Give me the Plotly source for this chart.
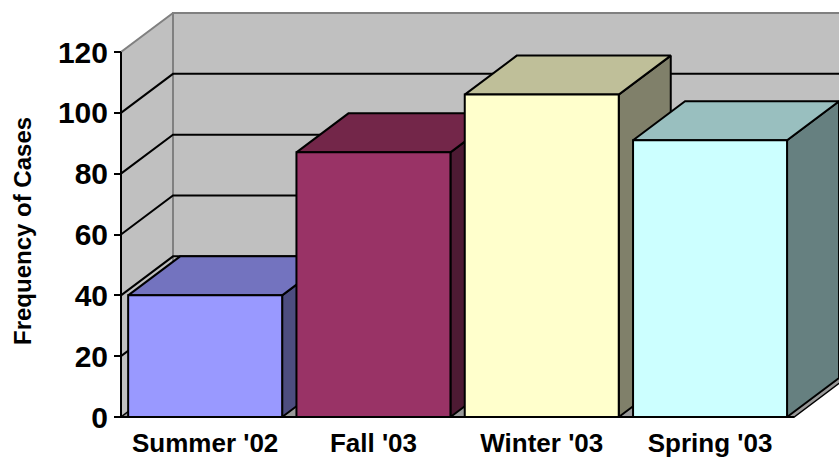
import plotly.graph_objects as go

# ---- data ----
categories = ["Summer '02", "Fall '03", "Winter '03", "Spring '03"]
values = [40, 87, 106, 91]
y_ticks = [0, 20, 40, 60, 80, 100, 120]
y_title = "Frequency of Cases"

# ---- styles ----
front_colors = ["#9999FF", "#993366", "#FFFFCC", "#CCFFFF"]
top_colors = ["#7373BF", "#732649", "#BFBF99", "#99BFBF"]
side_colors = ["#4D4D80", "#4D1A33", "#80806A", "#668080"]
WALL = "#C0C0C0"
WALL_EDGE = "#808080"
FLOOR = "#999999"

# geometry (pixels -> data units)
W, H = 839, 462
ML, MR, MT, MB = 111, 0, 8, 41
PX_CAT = 168.3
PX_VAL = 3.0417
AX_X_PX = 121
AX_Y_PX = 417
DEPTH_X = 52 / PX_CAT
DEPTH_Y = 39 / PX_VAL
BAR_FRAC = 0.915
VMAX = 120
ncat = len(categories)

xmin = -(AX_X_PX - ML) / PX_CAT
xmax = xmin + (W - ML - MR) / PX_CAT
ymin = -((H - MB) - AX_Y_PX) / PX_VAL
ymax = ymin + (H - MT - MB) / PX_VAL

fig = go.Figure()


def poly(xs, ys, fill, line, lw=2):
    fig.add_trace(go.Scatter(
        x=xs + [xs[0]], y=ys + [ys[0]], mode="lines", fill="toself",
        fillcolor=fill, line=dict(color=line, width=lw),
        hoverinfo="skip", showlegend=False))


# back wall
poly([DEPTH_X, ncat + DEPTH_X + 2, ncat + DEPTH_X + 2, DEPTH_X],
     [DEPTH_Y, DEPTH_Y, VMAX + DEPTH_Y, VMAX + DEPTH_Y], WALL, WALL_EDGE)
# left wall
poly([0, DEPTH_X, DEPTH_X, 0], [0, DEPTH_Y, VMAX + DEPTH_Y, VMAX], WALL, WALL_EDGE)
# floor
poly([0, ncat, ncat + DEPTH_X, DEPTH_X], [0, 0, DEPTH_Y, DEPTH_Y], FLOOR, "black", 1.5)

# gridlines
gx, gy = [], []
for v in y_ticks:
    if v == 0 or v == VMAX:
        continue
    gx += [0, DEPTH_X, ncat + DEPTH_X + 2, None]
    gy += [v, v + DEPTH_Y, v + DEPTH_Y, None]
fig.add_trace(go.Scatter(x=gx, y=gy, mode="lines", line=dict(color="black", width=2),
                         hoverinfo="skip", showlegend=False))

# bars
pad = (1 - BAR_FRAC) / 2
for i, v in enumerate(values):
    x0 = i + pad
    x1 = i + 1 - pad
    # side
    poly([x1, x1 + DEPTH_X, x1 + DEPTH_X, x1], [0, DEPTH_Y, v + DEPTH_Y, v], side_colors[i], "black")
    # top
    poly([x0, x1, x1 + DEPTH_X, x0 + DEPTH_X], [v, v, v + DEPTH_Y, v + DEPTH_Y], top_colors[i], "black")
    # front
    poly([x0, x1, x1, x0], [0, 0, v, v], front_colors[i], "black")

# axis lines
fig.add_trace(go.Scatter(x=[0, 0, None, 0, ncat], y=[VMAX, 0, None, 0, 0], mode="lines",
                         line=dict(color="black", width=2), hoverinfo="skip", showlegend=False))

font_family = "Arial, Liberation Sans, sans-serif"
xpos = (0 - ymin) / (ymax - ymin)
ypos = (0 - xmin) / (xmax - xmin)

fig.update_layout(
    width=W, height=H,
    margin=dict(l=ML, r=MR, t=MT, b=MB, pad=0),
    paper_bgcolor="white", plot_bgcolor="white",
    showlegend=False,
    xaxis=dict(range=[xmin, xmax], showgrid=False, zeroline=False, showline=False,
               anchor="free", position=xpos,
               tickvals=[i + 0.5 for i in range(ncat)], ticktext=categories, ticks="",
               tickfont=dict(family=font_family, size=26, color="black", weight="bold"),
               ticklabelstandoff=8),
    xaxis2=dict(range=[xmin, xmax], overlaying="x", matches="x", anchor="free", position=xpos,
                side="bottom", showgrid=False, zeroline=False, showline=False,
                tickvals=list(range(ncat + 1)), ticks="outside", ticklen=7, tickwidth=2,
                tickcolor="black", showticklabels=False),
    yaxis=dict(range=[ymin, ymax], showgrid=False, zeroline=False, showline=False,
               anchor="free", position=ypos,
               tickvals=y_ticks, ticks="outside", ticklen=7, tickwidth=2, tickcolor="black",
               tickfont=dict(family=font_family, size=30, color="black", weight="bold")),
    annotations=[dict(
        text=y_title, textangle=-90, showarrow=False,
        xref="paper", yref="paper",
        x=(22 - ML) / (W - ML - MR), y=((H - MB) - 231) / (H - MT - MB),
        xanchor="center", yanchor="middle",
        font=dict(family=font_family, size=24, color="black", weight="bold"))],
)

fig.write_html("out.html")
